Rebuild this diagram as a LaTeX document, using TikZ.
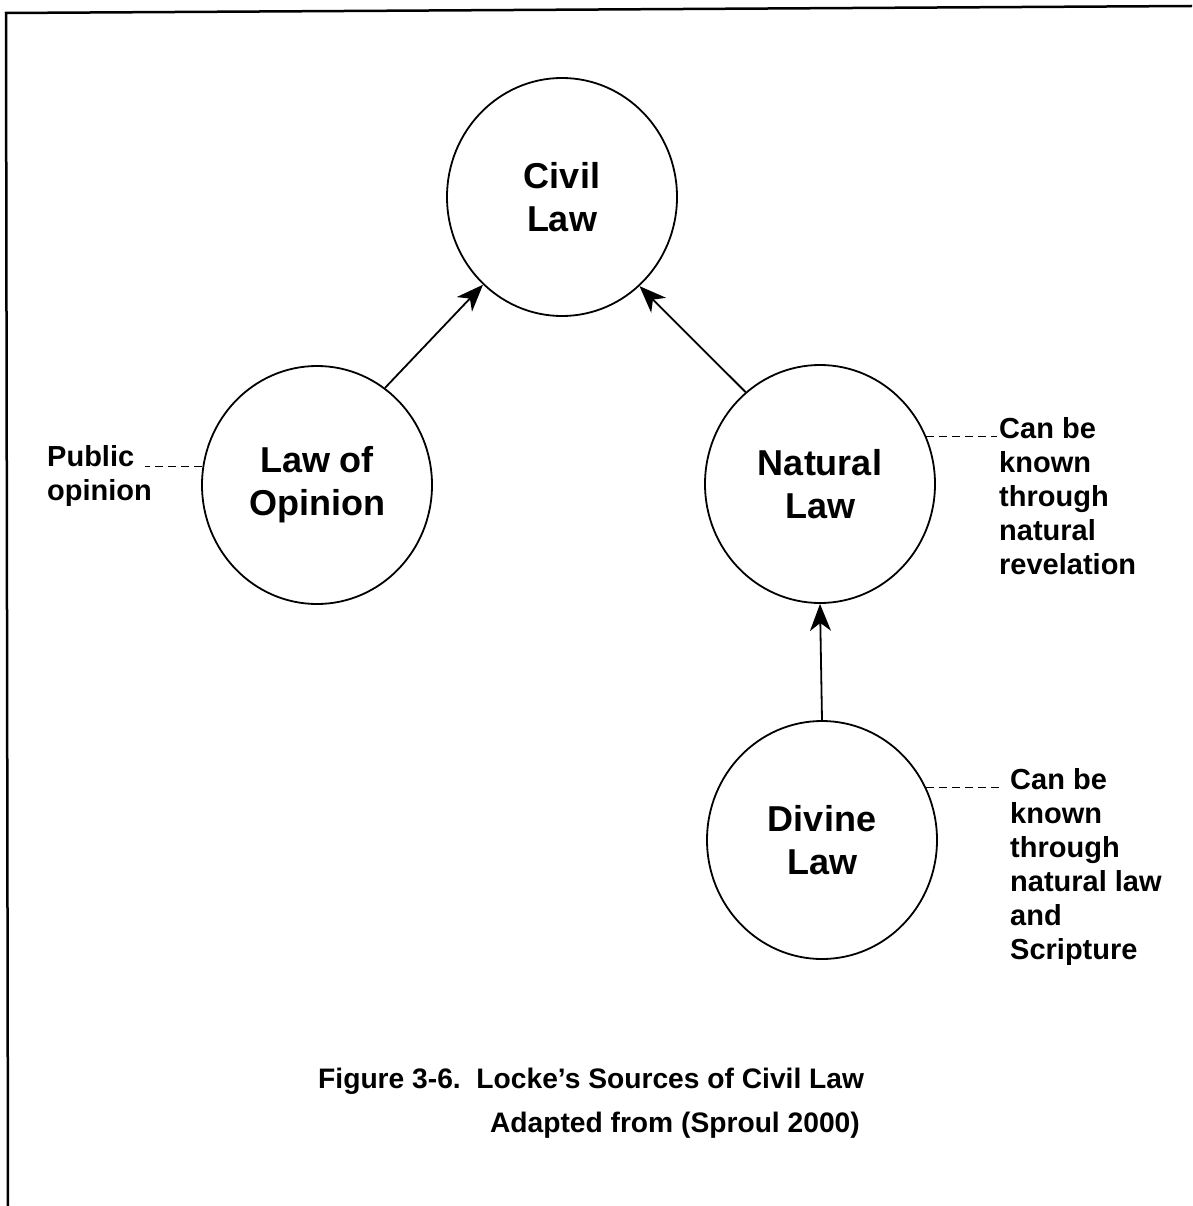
\documentclass[tikz,border=0pt]{standalone}
\usepackage{fontspec}
\setmainfont{Liberation Sans}
\usetikzlibrary{arrows.meta,shapes.geometric}
\begin{document}
\begin{tikzpicture}[x=1pt,y=-1pt,
  lawnode/.style={draw, ellipse, line width=1.8pt, minimum width=230pt, minimum height=238pt, inner sep=0pt, align=center, font=\fontsize{36}{43}\selectfont\bfseries},
  note/.style={anchor=north west, inner sep=0pt, align=left, font=\fontsize{29}{34}\selectfont\bfseries},
  captext/.style={inner sep=0pt, font=\fontsize{28.2}{34}\selectfont\bfseries},
  link/.style={line width=1.8pt, -{Stealth[length=27pt,width=21pt,inset=8pt]}},
  leader/.style={line width=1pt, dash pattern=on 8pt off 5pt},
  frame/.style={line width=2.5pt}]
\useasboundingbox (0,0) rectangle (1192,1206);
\draw[frame] (8,1206) -- (6,13) -- (1192,6);
\node[lawnode] (civil) at (562,197) {Civil\\Law};
\node[lawnode] (opinion) at (317,485) {Law of\\Opinion};
\node[lawnode] (natural) at (820,484) {Natural\\Law};
\node[lawnode] (divine) at (822,840) {Divine\\Law};
\draw[link] (opinion.55) -- (civil.228);
\draw[link] (natural.129) -- (civil.311);
\draw[link] (divine.north) -- (natural.south);
\node[note] (pub) at (47,445) {Public\\opinion};
\node[note] (natnote) at (999,417) {Can be\\known\\through\\natural\\revelation};
\node[note] (divnote) at (1010,768) {Can be\\known\\through\\natural law\\and\\Scripture};
\coordinate (pubend) at (145,467);
\draw[leader] (opinion.171) -- (opinion.171 -| pubend);
\draw[leader] (natural.24) -- ([xshift=-2pt]natural.24 -| natnote.west);
\draw[leader] (divine.27) -- ([xshift=-8pt]divine.27 -| divnote.west);
\node[captext, anchor=base west] (cap1) at (318,1088) {Figure 3-6.\ \ Locke’s Sources of Civil Law};
\node[captext, anchor=base east] (cap2) at (860,1132) {Adapted from (Sproul 2000)};
\end{tikzpicture}
\end{document}
